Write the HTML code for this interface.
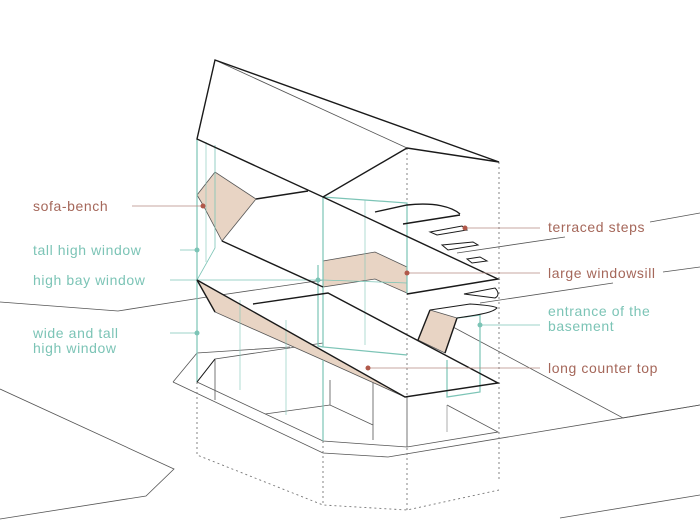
<!DOCTYPE html>
<html><head><meta charset="utf-8"><style>
html,body{margin:0;padding:0;background:#fff;}
svg{display:block;}
text{font-family:"Liberation Sans","DejaVu Sans",sans-serif;font-size:14px;letter-spacing:0.6px;}
.r{fill:#a5675a;}
.t{fill:#7cc4b6;}
</style></head><body>
<svg width="700" height="523" viewBox="0 0 700 523" xmlns="http://www.w3.org/2000/svg">
<g fill="none" stroke="#555" stroke-width="0.8">
<polyline points="0,302 118,311 207,297 323,280"/>
<polyline points="0,389 174,469 146,496 0,519"/>
<polyline points="457,253 565,237"/><polyline points="650,222 700,213"/>
<polyline points="480,303 613,283"/><polyline points="663,272 700,267"/>
<polyline points="453,327 623,418 700,405"/>
<polyline points="560,518 700,495"/>
<polyline points="173,382 197,353 290,347"/>
<polyline points="173,382 323,453 388,457 700,405"/>
<polyline points="197,382 215,359 323,343"/>
<polyline points="215,359 215,400"/>
<polyline points="197,382 323,441 407,447 498,432 447,405"/>
<polyline points="265,414 330,405 373,425 373,440"/>
<polyline points="330,405 330,380"/>
<polyline points="373,425 373,382"/>
<polyline points="407,397 407,447"/>
<polyline points="447,405 447,432" stroke="#999"/>
<polyline points="215,60 407,148"/>
</g>
<g fill="none" stroke="#777" stroke-width="0.9" stroke-dasharray="2,3">
<polyline points="407,148 407,510"/>
<polyline points="499,162 499,480"/>
<polyline points="197,382 197,455 323,505 407,510 499,490"/>
<polyline points="323,441 323,505"/>
</g>
<g fill="#e8d4c4" stroke="#555" stroke-width="0.8">
<polygon points="197,195 215,172 256,199 222,241 203,205"/>
<polygon points="323,261 375,252 407,267 407,293 375,279 323,287"/>
<polygon points="197,280 215,312 323,360 405,397"/>
<polygon points="418,340 430,310 457,318 445,353"/>
</g>
<g fill="none" stroke="#7cc4b6" stroke-width="1.2">
<polyline points="197,139 197,382"/>
<polyline points="215,145 215,248 197,280" stroke-width="0.8"/>
<polyline points="206,142 206,262" stroke-width="0.6"/>
<polyline points="323,197 323,347 407,355"/>
<polyline points="323,197 407,203 407,293"/>
<polyline points="318,265 318,346 323,347" />
<polyline points="365,200 365,345" stroke-width="0.6"/>
<polyline points="323,280 407,283" stroke-width="0.8"/>
<polyline points="457,318 480,315 480,392 447,397 447,360"/>
<polyline points="240,300 240,390" stroke-width="0.6"/>
<polyline points="286,320 286,415" stroke-width="0.6"/>
<polyline points="323,360 323,441"/>
<polyline points="170,280 323,280" stroke-width="0.8"/>
<polyline points="180,250 197,250" stroke-width="0.8"/>
<polyline points="170,333 197,333" stroke-width="0.8"/>
<polyline points="480,325 540,325" stroke-width="0.8"/>
</g>
<g fill="#7cc4b6"><circle cx="197" cy="250" r="2.5"/><circle cx="197" cy="333" r="2.5"/><circle cx="318" cy="280" r="2.5"/><circle cx="480" cy="325" r="2.5"/></g>
<g fill="none" stroke="#1a1a1a" stroke-width="1.4" stroke-linejoin="miter">
<polygon points="215,60 499,162 407,148 323,197 197,139"/>
<polyline points="323,197 498,279 407,294"/>
<polyline points="222,241 323,287"/>
<polyline points="256,199 308,191"/>
<path d="M375,212 L407,205 C435,202 452,207 460,214"/>
<polyline points="403,224 460,215"/>
<polygon points="430,232 462,226 467,230 437,235" stroke-width="1"/>
<polygon points="442,245 473,242 478,245 448,250" stroke-width="1"/>
<polygon points="467,259 480,257 487,261 472,263" stroke-width="1"/>
<path d="M464,294 L495,288 C499,292 499,296 495,298 Z" stroke-width="1"/>
<path d="M430,310 L470,304 C485,305 495,306 497,308 C493,312 485,314 457,318" stroke-width="1"/>
<polyline points="197,280 405,397 498,383 328,293 253,304"/>
<polyline points="197,280 215,312"/>
<polyline points="430,310 418,340"/><polyline points="457,318 445,353"/>
<polyline points="197,382 215,359" stroke-width="1"/>
</g>
<g stroke="#b58a80" stroke-width="0.8"><line x1="132" y1="206" x2="203" y2="206"/><line x1="465" y1="228" x2="540" y2="228"/><line x1="407" y1="273" x2="540" y2="273"/><line x1="368" y1="368" x2="540" y2="368"/></g>
<g fill="#b0584a"><circle cx="203" cy="206" r="2.5"/><circle cx="465" cy="228" r="2.5"/><circle cx="407" cy="273" r="2.5"/><circle cx="368" cy="368" r="2.5"/></g>
<text class="r" x="33" y="211">sofa-bench</text>
<text class="t" x="33" y="255">tall high window</text>
<text class="t" x="33" y="285">high bay window</text>
<text class="t" x="33" y="338">wide and tall</text>
<text class="t" x="33" y="353">high window</text>
<text class="r" x="548" y="232">terraced steps</text>
<text class="r" x="548" y="278">large windowsill</text>
<text class="t" x="548" y="316">entrance of the</text>
<text class="t" x="548" y="331">basement</text>
<text class="r" x="548" y="373">long counter top</text>
</svg>
</body></html>
